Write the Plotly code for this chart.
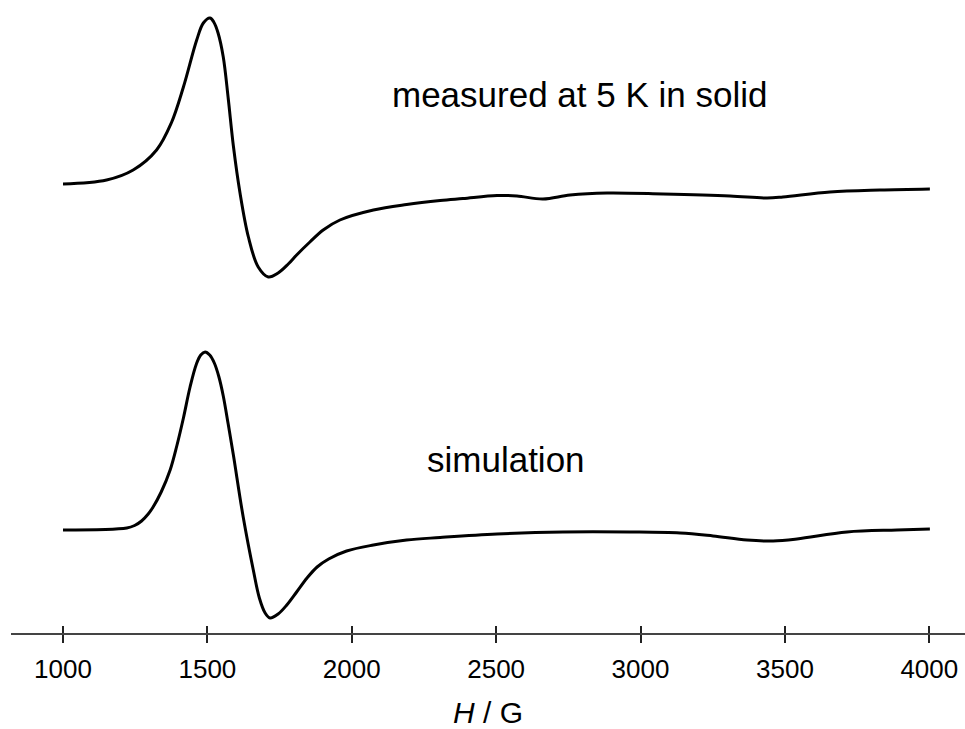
import plotly.graph_objects as go

# Field values (G) and intensities (arbitrary units)
measured_field = [1000, 1151, 1243, 1324, 1375, 1417, 1463, 1486, 1509, 1522, 1537, 1555,
                  1572, 1590, 1613, 1642, 1676, 1711, 1745, 1780, 1809, 1855, 1901, 1959,
                  2075, 2190, 2306, 2385, 2503, 2572, 2662, 2756, 2884, 3078, 3310, 3438,
                  3493, 3656, 3829, 4002]
measured_signal = [0, 4, 14, 34, 61, 97, 144, 161, 166, 162, 151, 127,
                   86, 38, -9, -53, -83, -93, -89, -80, -71, -58, -46, -36,
                   -26, -20.5, -16.5, -14.5, -11.5, -12, -15, -11, -9, -10, -12, -14,
                   -13, -8, -6, -5]

sim_field = [1000, 1221, 1248, 1272, 1295, 1312, 1340, 1371, 1394, 1417, 1440, 1462,
             1477, 1492, 1508, 1524, 1540, 1555, 1572, 1590, 1624, 1659, 1680, 1700,
             1717, 1745, 1775, 1809, 1845, 1880, 1920, 1982, 2075, 2190, 2306, 2503,
             2731, 2963, 3137, 3251, 3369, 3459, 3542, 3715, 3888, 4002]
sim_signal = [0, 2, 4.5, 9, 16, 23, 38, 60, 84, 112, 143, 166,
              175, 178, 175, 167, 153, 134, 106, 75, 13, -40, -68, -83,
              -88, -84, -75, -62, -48, -37, -29, -21, -15, -10, -7.5, -4,
              -2, -2, -3, -6, -10, -11, -9, -2, 0, 1]

tick_values = [1000, 1500, 2000, 2500, 3000, 3500, 4000]
tick_labels = ["1000", "1500", "2000", "2500", "3000", "3500", "4000"]

label_measured = "measured at 5 K in solid"
label_sim = "simulation"
axis_title = "<i>H</i> / G"

# vertical stacking offsets (layout only)
OFF_MEASURED = 449
OFF_SIM = 103

FONT = "Liberation Sans, Arial, Helvetica, sans-serif"

fig = go.Figure()
fig.add_trace(go.Scatter(
    x=measured_field, y=[v + OFF_MEASURED for v in measured_signal],
    mode="lines", line=dict(color="black", width=3, shape="spline", smoothing=1.0),
    name="measured", showlegend=False, hoverinfo="skip"))
fig.add_trace(go.Scatter(
    x=sim_field, y=[v + OFF_SIM for v in sim_signal],
    mode="lines", line=dict(color="black", width=3, shape="spline", smoothing=1.0),
    name="simulation", showlegend=False, hoverinfo="skip"))
# invisible trace on the second x axis so its upward ticks render
fig.add_trace(go.Scatter(x=[tick_values[0]], y=[OFF_SIM], xaxis="x2", mode="markers",
                         marker=dict(opacity=0), showlegend=False, hoverinfo="skip"))

fig.add_annotation(x=2787, y=539, text=label_measured, showarrow=False,
                   font=dict(family=FONT, size=35, color="black"),
                   xanchor="center", yanchor="middle")
fig.add_annotation(x=2534, y=174, text=label_sim, showarrow=False,
                   font=dict(family=FONT, size=35, color="black"),
                   xanchor="center", yanchor="middle")

xr = [819.9, 4123.6]
fig.update_layout(
    width=965, height=729,
    margin=dict(l=11, r=0, t=0, b=96),
    paper_bgcolor="white", plot_bgcolor="white",
    font=dict(family=FONT, color="black"),
    xaxis=dict(range=xr, showgrid=False, zeroline=False, showline=True,
               linecolor="#444444", linewidth=2,
               tickmode="array", tickvals=tick_values, ticktext=tick_labels,
               ticks="outside", ticklen=8, tickwidth=1.5, tickcolor="#222222",
               ticklabelstandoff=4,
               tickfont=dict(family=FONT, size=26, color="black"),
               title=dict(text=axis_title, font=dict(family=FONT, size=30, color="black"),
                          standoff=20)),
    xaxis2=dict(range=xr, overlaying="x", matches="x", side="bottom", showgrid=False,
                zeroline=False, showline=False,
                tickmode="array", tickvals=tick_values, ticktext=tick_labels,
                ticks="inside", ticklen=7, tickwidth=1.5, tickcolor="#222222",
                showticklabels=False),
    yaxis=dict(range=[0, 633], visible=False, showgrid=False, zeroline=False),
)

fig.write_html("out.html", config={"displayModeBar": False},
               post_script="document.body.style.margin='0';")
